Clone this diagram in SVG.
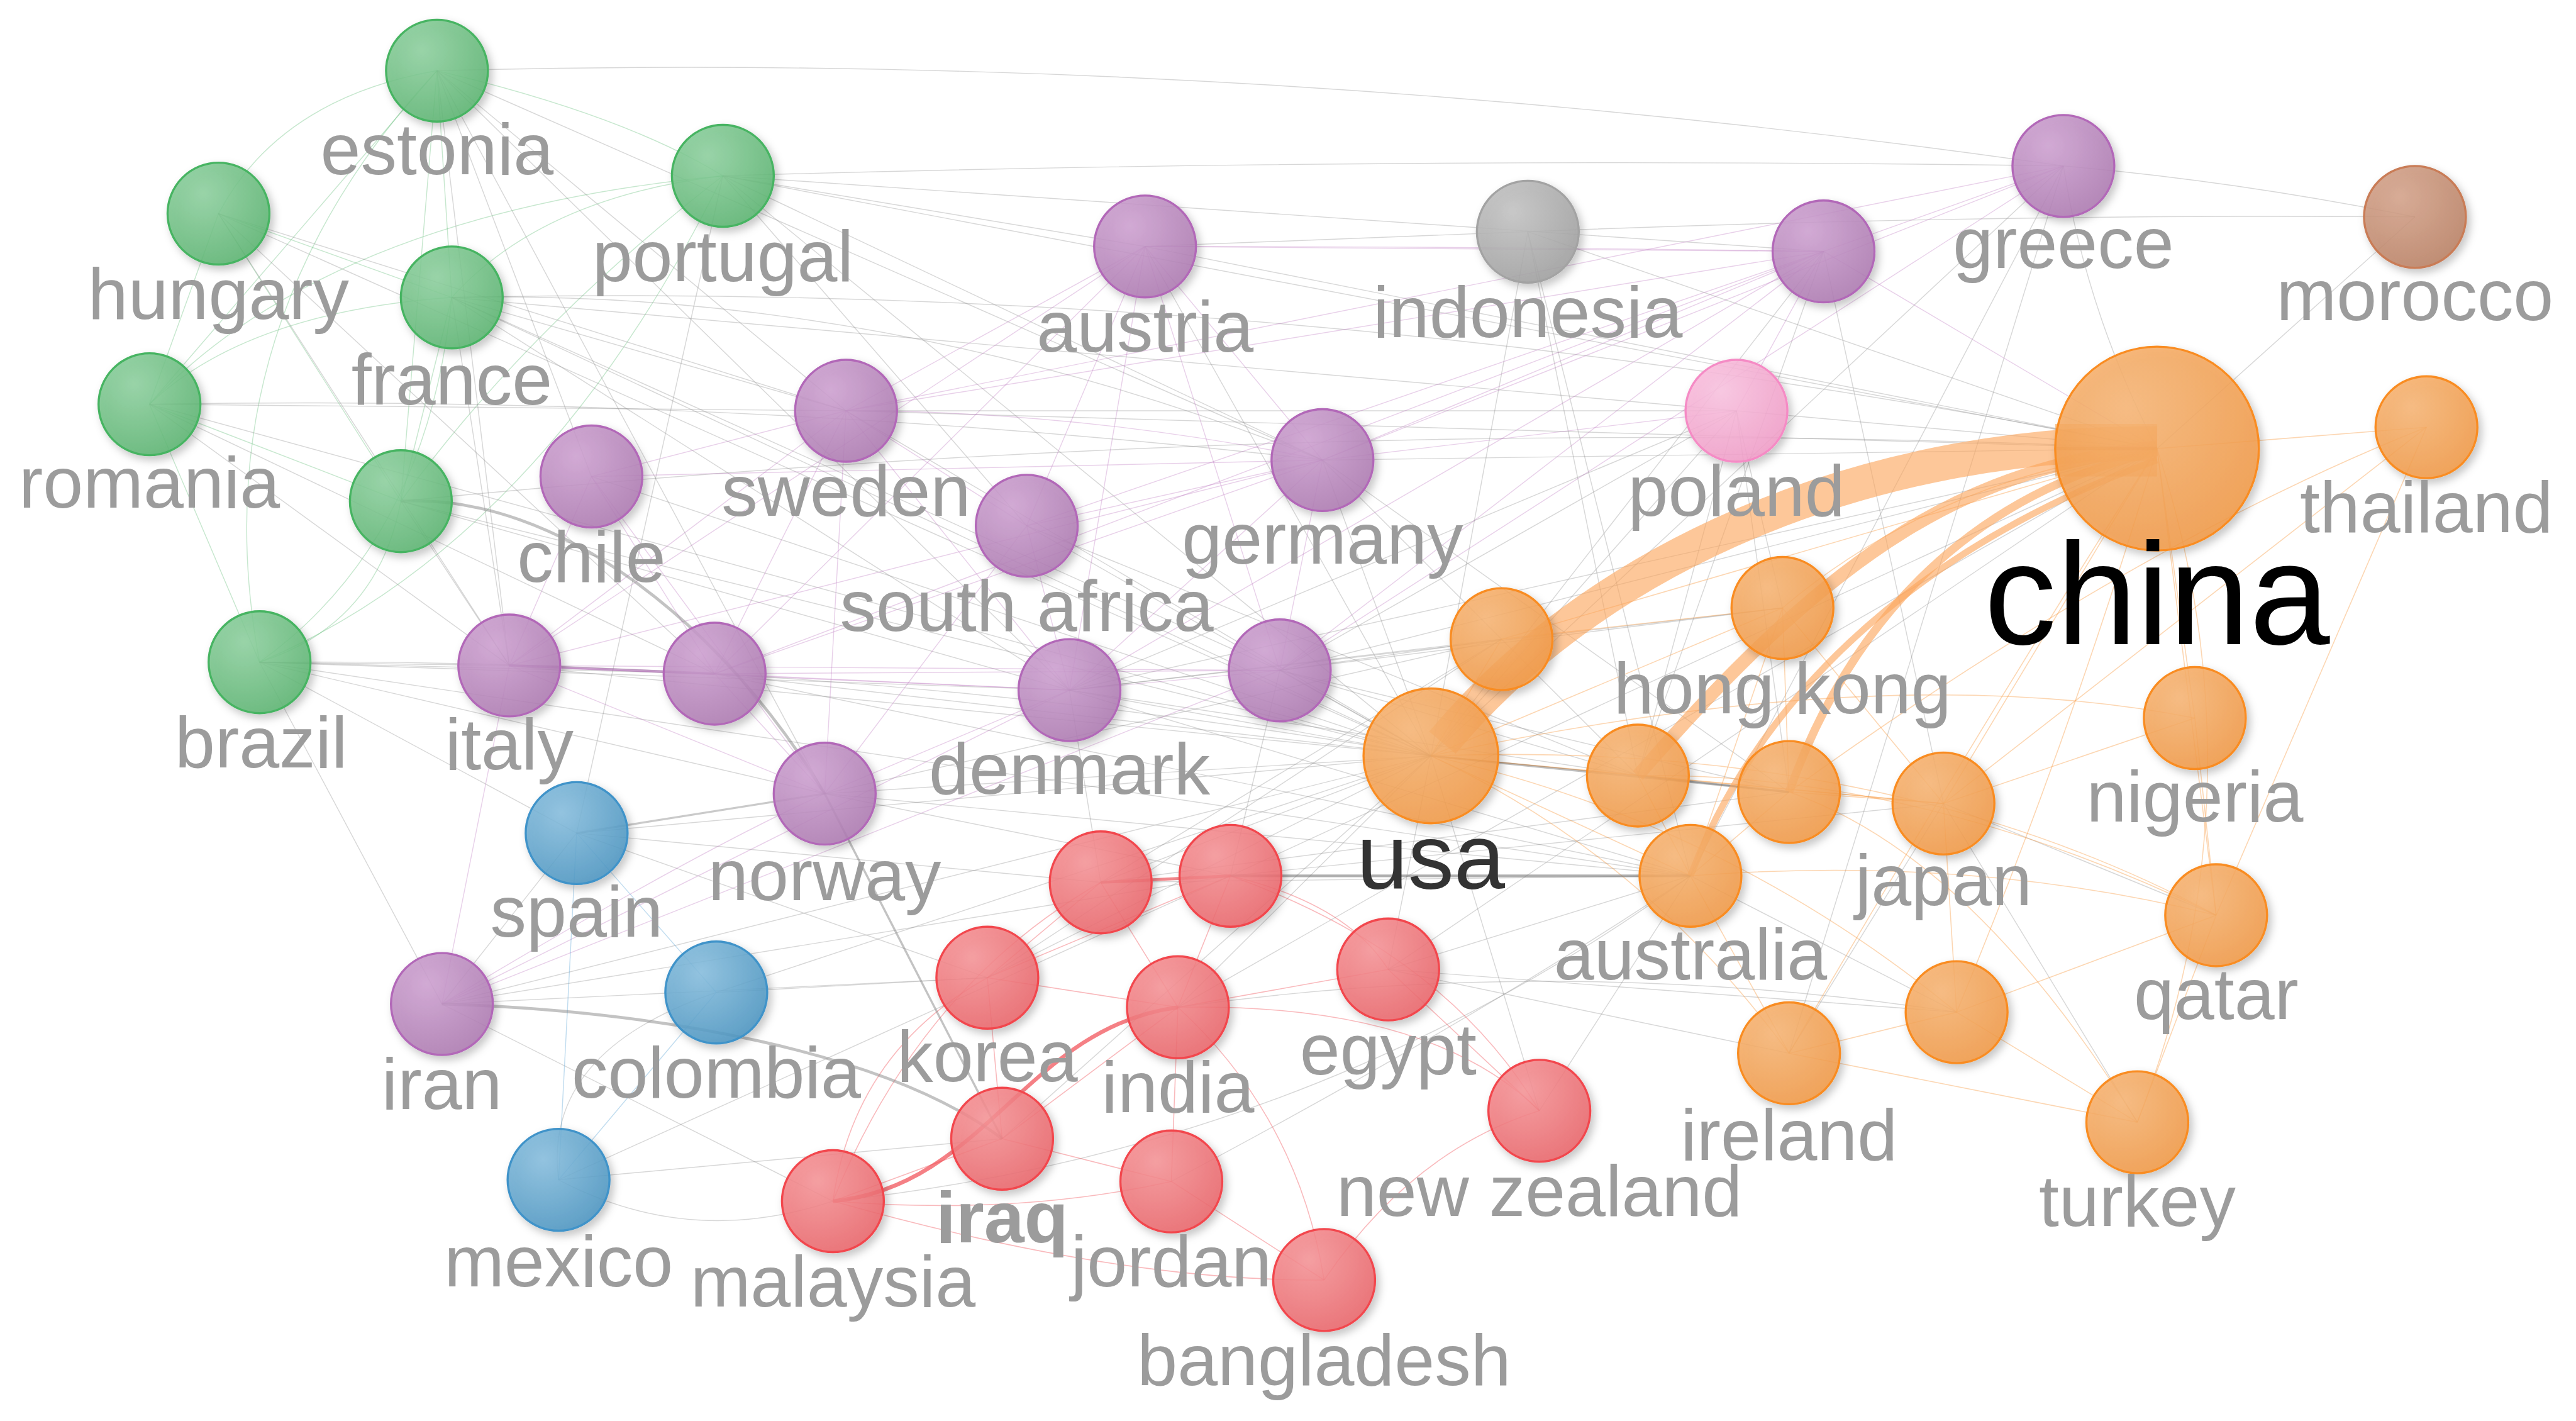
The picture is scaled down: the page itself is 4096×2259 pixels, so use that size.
<svg xmlns="http://www.w3.org/2000/svg" width="4096" height="2259" viewBox="0 0 4096 2259">
<style>
.e{stroke:#8a8a8a;stroke-opacity:.34;stroke-width:.55;fill:none}
.eg{stroke:#5cbb74;stroke-opacity:.35;stroke-width:.55;fill:none}
.ep{stroke:#b86fbd;stroke-opacity:.33;stroke-width:.55;fill:none}
.eo{stroke:#f8993f;stroke-opacity:.4;stroke-width:.6;fill:none}
.er{stroke:#f0474e;stroke-opacity:.38;stroke-width:.6;fill:none}
.eb{stroke:#4a9bd0;stroke-opacity:.35;stroke-width:.55;fill:none}
.band{stroke:#fba55a;stroke-opacity:.62;fill:none}
circle{stroke-width:1.3;fill-opacity:.86;filter:url(#sh)}
.ng{fill:url(#gG);stroke:#47b462}
.np{fill:url(#gP);stroke:#b268b8}
.no{fill:url(#gO);stroke:#f98c20}
.nr{fill:url(#gR);stroke:#f2464d}
.nb{fill:url(#gB);stroke:#3f93c9}
.nx{fill:url(#gX);stroke:#a3a3a3}
.nm{fill:url(#gM);stroke:#c97b56}
.nk{fill:url(#gK);stroke:#f58bc5}
text{font-family:"Liberation Sans",Arial,sans-serif;font-size:44px;fill:#9c9c9c;text-anchor:middle}
</style>
<defs>
<filter id="sh" x="-30%" y="-30%" width="170%" height="170%"><feDropShadow dx="2" dy="2.5" stdDeviation="2.5" flood-color="#000" flood-opacity=".25"/></filter>
<radialGradient id="gG" cx=".35" cy=".3" r=".75"><stop offset="0" stop-color="#8fd1a0"/><stop offset="1" stop-color="#5cb572"/></radialGradient>
<radialGradient id="gP" cx=".35" cy=".3" r=".75"><stop offset="0" stop-color="#cfa2d2"/><stop offset="1" stop-color="#ae7bb2"/></radialGradient>
<radialGradient id="gO" cx=".35" cy=".3" r=".75"><stop offset="0" stop-color="#f8b676"/><stop offset="1" stop-color="#f29a47"/></radialGradient>
<radialGradient id="gR" cx=".35" cy=".3" r=".75"><stop offset="0" stop-color="#f79598"/><stop offset="1" stop-color="#eb666b"/></radialGradient>
<radialGradient id="gB" cx=".35" cy=".3" r=".75"><stop offset="0" stop-color="#88bfdf"/><stop offset="1" stop-color="#4c96c2"/></radialGradient>
<radialGradient id="gX" cx=".35" cy=".3" r=".75"><stop offset="0" stop-color="#c4c4c4"/><stop offset="1" stop-color="#a0a0a0"/></radialGradient>
<radialGradient id="gM" cx=".35" cy=".3" r=".75"><stop offset="0" stop-color="#d6a48c"/><stop offset="1" stop-color="#bb8265"/></radialGradient>
<radialGradient id="gK" cx=".35" cy=".3" r=".75"><stop offset="0" stop-color="#fbc4e1"/><stop offset="1" stop-color="#f29ec9"/></radialGradient>
</defs>
<rect width="4096" height="2259" fill="#fff"/>
<g transform="scale(2.6122)">
<g id="connectors">
<g class="eg">
<path d="M266 43 Q170 60 133 130"/><line x1="266" y1="43" x2="275" y2="181"/><path d="M266 43 Q380 70 440 107"/><line x1="266" y1="43" x2="91" y2="246"/><line x1="266" y1="43" x2="244" y2="305"/><line x1="133" y1="130" x2="275" y2="181"/><line x1="133" y1="130" x2="91" y2="246"/><line x1="133" y1="130" x2="244" y2="305"/><path d="M440 107 Q330 120 275 181"/><path d="M440 107 Q200 130 91 246"/><path d="M440 107 Q320 200 244 305"/><path d="M440 107 Q330 330 158 403"/><path d="M275 181 Q150 190 91 246"/><line x1="275" y1="181" x2="244" y2="305"/><path d="M275 181 Q260 330 158 403"/><line x1="91" y1="246" x2="244" y2="305"/><line x1="91" y1="246" x2="158" y2="403"/><path d="M244 305 Q230 380 158 403"/><path d="M266 43 Q120 200 158 403"/>
</g>
<g class="e">
<path d="M266 43 Q760 30 1256 101"/><line x1="266" y1="43" x2="515" y2="250"/><line x1="266" y1="43" x2="805" y2="280"/><line x1="266" y1="43" x2="360" y2="290"/><line x1="266" y1="43" x2="310" y2="405"/><line x1="266" y1="43" x2="651" y2="420"/><line x1="266" y1="43" x2="502" y2="483"/>
<line x1="133" y1="130" x2="310" y2="405"/><line x1="133" y1="130" x2="515" y2="250"/><line x1="133" y1="130" x2="435" y2="410"/><line x1="133" y1="130" x2="871" y2="460"/>
<line x1="440" y1="107" x2="1110" y2="153"/><path d="M440 107 Q850 95 1256 101"/><line x1="440" y1="107" x2="697" y2="150"/><line x1="440" y1="107" x2="805" y2="280"/><line x1="440" y1="107" x2="351" y2="507"/><line x1="440" y1="107" x2="1313" y2="273"/><line x1="440" y1="107" x2="625" y2="320"/><line x1="440" y1="107" x2="871" y2="460"/>
<path d="M275 181 Q540 175 805 280"/><line x1="275" y1="181" x2="515" y2="250"/><path d="M275 181 Q800 170 1313 273"/><line x1="275" y1="181" x2="871" y2="460"/><line x1="275" y1="181" x2="310" y2="405"/><line x1="275" y1="181" x2="651" y2="420"/><line x1="275" y1="181" x2="1057" y2="250"/><line x1="275" y1="181" x2="779" y2="408"/>
<path d="M91 246 Q450 240 805 280"/><line x1="91" y1="246" x2="310" y2="405"/><line x1="91" y1="246" x2="515" y2="250"/><line x1="91" y1="246" x2="871" y2="460"/><line x1="91" y1="246" x2="435" y2="410"/>
<line x1="244" y1="305" x2="871" y2="460"/><line x1="244" y1="305" x2="310" y2="405"/><line x1="244" y1="305" x2="651" y2="420"/><path d="M244 305 Q800 250 1313 273"/>
<line x1="158" y1="403" x2="310" y2="405"/><line x1="158" y1="403" x2="435" y2="410"/><path d="M158 403 Q520 400 871 460"/><line x1="158" y1="403" x2="351" y2="507"/><line x1="158" y1="403" x2="269" y2="611"/><line x1="158" y1="403" x2="651" y2="420"/><line x1="158" y1="403" x2="1029" y2="533"/><line x1="158" y1="403" x2="502" y2="483"/>
<line x1="697" y1="150" x2="930" y2="141"/><line x1="697" y1="150" x2="871" y2="460"/><line x1="697" y1="150" x2="1313" y2="273"/><line x1="515" y1="250" x2="1313" y2="273"/><line x1="515" y1="250" x2="871" y2="460"/><line x1="360" y1="290" x2="871" y2="460"/><line x1="625" y1="320" x2="871" y2="460"/><line x1="805" y1="280" x2="1313" y2="273"/><line x1="805" y1="280" x2="871" y2="460"/>
<line x1="310" y1="405" x2="871" y2="460"/><line x1="435" y1="410" x2="871" y2="460"/><line x1="651" y1="420" x2="871" y2="460"/><line x1="651" y1="420" x2="1313" y2="273"/><line x1="779" y1="408" x2="871" y2="460"/><line x1="779" y1="408" x2="1313" y2="273"/><line x1="502" y1="483" x2="871" y2="460"/><line x1="502" y1="483" x2="1029" y2="533"/>
<line x1="1110" y1="153" x2="871" y2="460"/><path d="M1256 101 Q1270 190 1313 273"/><path d="M1256 101 Q1360 110 1470 132"/><line x1="1256" y1="101" x2="871" y2="460"/><line x1="1256" y1="101" x2="1029" y2="533"/><line x1="1256" y1="101" x2="1089" y2="641"/>
<line x1="930" y1="141" x2="1313" y2="273"/><path d="M930 141 Q1200 130 1470 132"/><line x1="930" y1="141" x2="1029" y2="533"/><line x1="930" y1="141" x2="871" y2="460"/><line x1="1470" y1="132" x2="1313" y2="273"/><line x1="1057" y1="250" x2="1313" y2="273"/><line x1="1057" y1="250" x2="871" y2="460"/>
<line x1="269" y1="611" x2="351" y2="507"/><line x1="269" y1="611" x2="601" y2="595"/><line x1="269" y1="611" x2="507" y2="731"/><line x1="269" y1="611" x2="749" y2="533"/><line x1="269" y1="611" x2="871" y2="460"/>
<line x1="351" y1="507" x2="871" y2="460"/><line x1="351" y1="507" x2="670" y2="537"/><line x1="436" y1="604" x2="871" y2="460"/><line x1="436" y1="604" x2="601" y2="595"/><line x1="340" y1="718" x2="610" y2="693"/><path d="M340 718 Q420 760 507 731"/><line x1="340" y1="718" x2="749" y2="533"/><line x1="351" y1="507" x2="601" y2="595"/>
<line x1="871" y1="460" x2="670" y2="537"/><line x1="871" y1="460" x2="601" y2="595"/><line x1="871" y1="460" x2="717" y2="613"/><line x1="871" y1="460" x2="845" y2="590"/><line x1="871" y1="460" x2="937" y2="676"/><line x1="871" y1="460" x2="610" y2="693"/><line x1="670" y1="537" x2="1029" y2="533"/><line x1="1029" y1="533" x2="937" y2="676"/><path d="M713 719 Q900 620 1029 533"/><line x1="1029" y1="533" x2="845" y2="590"/><line x1="1089" y1="641" x2="845" y2="590"/><line x1="1191" y1="616" x2="845" y2="590"/><path d="M717 613 Q950 580 1191 616"/><line x1="1089" y1="482" x2="670" y2="537"/><line x1="1183" y1="489" x2="749" y2="533"/><line x1="1313" y1="273" x2="749" y2="533"/><line x1="1313" y1="273" x2="717" y2="613"/><line x1="1313" y1="273" x2="845" y2="590"/><line x1="914" y1="389" x2="651" y2="420"/><line x1="914" y1="389" x2="779" y2="408"/><line x1="914" y1="389" x2="502" y2="483"/><line x1="1085" y1="370" x2="779" y2="408"/><line x1="997" y1="472" x2="651" y2="420"/><line x1="997" y1="472" x2="779" y2="408"/><path d="M507 731 Q800 700 1029 533"/><path d="M340 718 Q330 640 436 604"/><line x1="1183" y1="489" x2="1349" y2="557"/><line x1="1191" y1="616" x2="1029" y2="533"/><line x1="1301" y1="683" x2="1183" y2="489"/><line x1="1089" y1="641" x2="1183" y2="489"/>
<line x1="1057" y1="250" x2="779" y2="408"/><line x1="1057" y1="250" x2="651" y2="420"/><line x1="1057" y1="250" x2="997" y2="472"/><line x1="1057" y1="250" x2="1089" y2="482"/><line x1="1110" y1="153" x2="997" y2="472"/><line x1="1110" y1="153" x2="1183" y2="489"/><line x1="930" y1="141" x2="997" y2="472"/><line x1="805" y1="280" x2="997" y2="472"/><line x1="805" y1="280" x2="1089" y2="482"/><line x1="625" y1="320" x2="997" y2="472"/><line x1="515" y1="250" x2="1057" y2="250"/><line x1="435" y1="410" x2="1029" y2="533"/><line x1="651" y1="420" x2="1029" y2="533"/><line x1="779" y1="408" x2="1089" y2="482"/><line x1="779" y1="408" x2="749" y2="533"/><line x1="651" y1="420" x2="670" y2="537"/><line x1="502" y1="483" x2="749" y2="533"/><line x1="914" y1="389" x2="670" y2="537"/><line x1="914" y1="389" x2="601" y2="595"/><line x1="1085" y1="370" x2="651" y2="420"/><line x1="1085" y1="370" x2="1057" y2="250"/>
</g>
<g class="ep">
<line x1="697" y1="150" x2="515" y2="250"/><line x1="697" y1="150" x2="805" y2="280"/><line x1="697" y1="150" x2="625" y2="320"/><line x1="697" y1="150" x2="651" y2="420"/><line x1="697" y1="150" x2="310" y2="405"/><line x1="697" y1="150" x2="1110" y2="153"/><line x1="697" y1="150" x2="435" y2="410"/><line x1="697" y1="150" x2="779" y2="408"/>
<path d="M515 250 Q660 250 805 280"/><line x1="515" y1="250" x2="625" y2="320"/><line x1="515" y1="250" x2="360" y2="290"/><line x1="515" y1="250" x2="310" y2="405"/><line x1="515" y1="250" x2="435" y2="410"/><line x1="515" y1="250" x2="651" y2="420"/><line x1="515" y1="250" x2="502" y2="483"/><line x1="515" y1="250" x2="1110" y2="153"/>
<line x1="360" y1="290" x2="310" y2="405"/><line x1="360" y1="290" x2="435" y2="410"/><line x1="360" y1="290" x2="502" y2="483"/><line x1="360" y1="290" x2="805" y2="280"/>
<line x1="625" y1="320" x2="805" y2="280"/><line x1="625" y1="320" x2="651" y2="420"/><line x1="625" y1="320" x2="502" y2="483"/><line x1="625" y1="320" x2="1110" y2="153"/>
<line x1="805" y1="280" x2="1110" y2="153"/><line x1="805" y1="280" x2="1057" y2="250"/><line x1="805" y1="280" x2="651" y2="420"/><line x1="805" y1="280" x2="779" y2="408"/><line x1="805" y1="280" x2="1256" y2="101"/><line x1="805" y1="280" x2="310" y2="405"/><line x1="805" y1="280" x2="435" y2="410"/>
<line x1="310" y1="405" x2="651" y2="420"/><line x1="310" y1="405" x2="502" y2="483"/><line x1="310" y1="405" x2="269" y2="611"/><line x1="310" y1="405" x2="779" y2="408"/>
<line x1="435" y1="410" x2="651" y2="420"/><line x1="435" y1="410" x2="779" y2="408"/><line x1="435" y1="410" x2="502" y2="483"/><line x1="651" y1="420" x2="779" y2="408"/><line x1="651" y1="420" x2="502" y2="483"/>
<line x1="779" y1="408" x2="1110" y2="153"/><line x1="1110" y1="153" x2="1256" y2="101"/><line x1="1110" y1="153" x2="1057" y2="250"/><line x1="1110" y1="153" x2="1313" y2="273"/><line x1="1110" y1="153" x2="435" y2="410"/><line x1="1256" y1="101" x2="515" y2="250"/><path d="M697 150 Q900 150 1110 153"/>
<path d="M269 611 Q420 520 502 483"/><line x1="269" y1="611" x2="651" y2="420"/><path d="M269 611 Q600 480 779 408"/><line x1="1256" y1="101" x2="779" y2="408"/><line x1="1110" y1="153" x2="651" y2="420"/>
</g>
<path d="M310 405 L435 410" stroke="#a35aa8" stroke-opacity=".55" stroke-width="1.6" fill="none"/>
<g class="eb">
<line x1="351" y1="507" x2="436" y2="604"/><line x1="351" y1="507" x2="340" y2="718"/><line x1="436" y1="604" x2="340" y2="718"/>
</g>
<g class="eo">
<line x1="1313" y1="273" x2="1183" y2="489"/><line x1="1313" y1="273" x2="1336" y2="437"/><line x1="1313" y1="273" x2="1349" y2="557"/><path d="M1313 273 Q1380 480 1301 683"/><path d="M1313 273 Q1200 450 1089 641"/><path d="M1313 273 Q1260 450 1191 616"/><line x1="1313" y1="273" x2="1477" y2="260"/><line x1="1313" y1="273" x2="914" y2="389"/><path d="M1313 273 Q1180 290 1085 370"/>
<line x1="1477" y1="260" x2="1183" y2="489"/><line x1="1477" y1="260" x2="1349" y2="557"/><path d="M1477 260 Q1300 330 1089 482"/>
<line x1="871" y1="460" x2="914" y2="389"/><line x1="871" y1="460" x2="1085" y2="370"/><line x1="871" y1="460" x2="997" y2="472"/><line x1="871" y1="460" x2="1183" y2="489"/><line x1="871" y1="460" x2="1029" y2="533"/><path d="M871 460 Q1050 500 1191 616"/><path d="M871 460 Q1000 520 1089 641"/><path d="M871 460 Q1150 450 1349 557"/><path d="M871 460 Q1150 400 1336 437"/>
<line x1="997" y1="472" x2="1183" y2="489"/><line x1="997" y1="472" x2="1029" y2="533"/><line x1="1089" y1="482" x2="1183" y2="489"/><line x1="1089" y1="482" x2="1029" y2="533"/><line x1="1089" y1="482" x2="1085" y2="370"/>
<line x1="1183" y1="489" x2="1336" y2="437"/><line x1="1183" y1="489" x2="1191" y2="616"/><line x1="1029" y1="533" x2="1089" y2="641"/><path d="M1029 533 Q1200 520 1349 557"/><line x1="1191" y1="616" x2="1349" y2="557"/><line x1="1191" y1="616" x2="1301" y2="683"/><line x1="1089" y1="641" x2="1301" y2="683"/><line x1="1089" y1="641" x2="1191" y2="616"/><line x1="1336" y1="437" x2="1349" y2="557"/><line x1="1349" y1="557" x2="1301" y2="683"/><line x1="1085" y1="370" x2="1183" y2="489"/><line x1="1085" y1="370" x2="1029" y2="533"/><line x1="914" y1="389" x2="1085" y2="370"/><path d="M997 472 Q1170 470 1349 557"/><path d="M1089 482 Q1200 520 1301 683"/>
</g>
<g class="er">
<line x1="670" y1="537" x2="601" y2="595"/><line x1="670" y1="537" x2="717" y2="613"/><line x1="749" y1="533" x2="717" y2="613"/><path d="M749 533 Q820 550 845 590"/><line x1="749" y1="533" x2="601" y2="595"/><line x1="601" y1="595" x2="717" y2="613"/><line x1="601" y1="595" x2="610" y2="693"/><path d="M601 595 Q520 640 507 731"/><line x1="717" y1="613" x2="610" y2="693"/><line x1="717" y1="613" x2="713" y2="719"/><line x1="717" y1="613" x2="845" y2="590"/><path d="M717 613 Q790 680 806 779"/><path d="M717 613 Q870 610 937 676"/><line x1="507" y1="731" x2="610" y2="693"/><path d="M507 731 Q620 740 713 719"/><path d="M507 731 Q680 780 806 779"/><line x1="713" y1="719" x2="806" y2="779"/><path d="M937 676 Q860 700 806 779"/><line x1="845" y1="590" x2="937" y2="676"/><path d="M670 537 Q560 600 507 731"/><path d="M749 533 Q880 580 937 676"/><line x1="610" y1="693" x2="713" y2="719"/>
</g>
<path d="M670 537 L749 533" stroke="#e8393f" stroke-opacity=".6" stroke-width="1.8" fill="none"/>
<path d="M507 731 C600 722 625 625 717 613" stroke="#f03c44" stroke-opacity=".65" stroke-width="2.4" fill="none"/>
<path d="M749 533 L1029 533" stroke="#6e6e6e" stroke-opacity=".55" stroke-width="1.6" fill="none"/>
<path d="M871 460 L1089 482" stroke="#6e6e6e" stroke-opacity=".45" stroke-width="1.3" fill="none"/>
<path d="M997 472 L1089 482" stroke="#6e6e6e" stroke-opacity=".45" stroke-width="1.2" fill="none"/>
<path d="M244 305 C340 300 440 380 502 483" stroke="#7a7a7a" stroke-opacity=".45" stroke-width="1.8" fill="none"/>
<path d="M502 483 L610 693" stroke="#7a7a7a" stroke-opacity=".45" stroke-width="1.3" fill="none"/>
<path d="M269 611 C400 615 540 640 610 693" stroke="#7a7a7a" stroke-opacity=".45" stroke-width="1.8" fill="none"/>
<path d="M351 507 L502 483" stroke="#7a7a7a" stroke-opacity=".4" stroke-width="1.2" fill="none"/>
<path d="M1313 270 C1150 268 980 330 878 452" class="band" stroke-width="21"/>
<path d="M1313 272 C1200 285 1120 330 997 472" class="band" stroke-width="8"/>
<path d="M1313 275 C1240 290 1140 340 1089 482" class="band" stroke-width="5"/>
<path d="M1313 280 C1200 320 1080 400 1029 533" class="band" stroke-width="4"/>
<path d="M1251 274 L1313 274" stroke="#f98c20" stroke-opacity=".45" stroke-width="32" fill="none"/>
<path d="M1251 273 L1313 273" stroke="#e07010" stroke-opacity=".6" stroke-width="2" fill="none"/>
</g>
<g id="n-estonia"><circle class="ng" cx="266" cy="43" r="31"/><text x="266" y="106">estonia</text></g>
<g id="n-hungary"><circle class="ng" cx="133" cy="130" r="31"/><text x="133" y="194">hungary</text></g>
<g id="n-portugal"><circle class="ng" cx="440" cy="107" r="31"/><text x="440" y="171">portugal</text></g>
<g id="n-france"><circle class="ng" cx="275" cy="181" r="31"/><text x="275" y="246">france</text></g>
<g id="n-romania"><circle class="ng" cx="91" cy="246" r="31"/><text x="91" y="309">romania</text></g>
<g id="n-green6"><circle class="ng" cx="244" cy="305" r="31"/></g>
<g id="n-brazil"><circle class="ng" cx="158" cy="403" r="31"/><text x="159" y="467">brazil</text></g>
<g id="n-austria"><circle class="np" cx="697" cy="150" r="31"/><text x="697" y="214">austria</text></g>
<g id="n-indonesia"><circle class="nx" cx="930" cy="141" r="31"/><text x="930" y="205">indonesia</text></g>
<g id="n-purple-greece"><circle class="np" cx="1110" cy="153" r="31"/></g>
<g id="n-greece"><circle class="np" cx="1256" cy="101" r="31"/><text x="1256" y="163">greece</text></g>
<g id="n-morocco"><circle class="nm" cx="1470" cy="132" r="31"/><text x="1470" y="195">morocco</text></g>
<g id="n-poland"><circle class="nk" cx="1057" cy="250" r="31"/><text x="1057" y="314">poland</text></g>
<g id="n-thailand"><circle class="no" cx="1477" cy="260" r="31"/><text x="1477" y="324">thailand</text></g>
<g id="n-sweden"><circle class="np" cx="515" cy="250" r="31"/><text x="515" y="314">sweden</text></g>
<g id="n-chile"><circle class="np" cx="360" cy="290" r="31"/><text x="360" y="354">chile</text></g>
<g id="n-southafrica"><circle class="np" cx="625" cy="320" r="31"/><text x="625" y="384">south africa</text></g>
<g id="n-germany"><circle class="np" cx="805" cy="280" r="31"/><text x="805" y="343">germany</text></g>
<g id="n-italy"><circle class="np" cx="310" cy="405" r="31"/><text x="310" y="468">italy</text></g>
<g id="n-purple2"><circle class="np" cx="435" cy="410" r="31"/></g>
<g id="n-denmark"><circle class="np" cx="651" cy="420" r="31"/><text x="651" y="483">denmark</text></g>
<g id="n-purple3"><circle class="np" cx="779" cy="408" r="31"/></g>
<g id="n-norway"><circle class="np" cx="502" cy="483" r="31"/><text x="502" y="548">norway</text></g>
<g id="n-spain"><circle class="nb" cx="351" cy="507" r="31"/><text x="351" y="570">spain</text></g>
<g id="n-colombia"><circle class="nb" cx="436" cy="604" r="31"/><text x="436" y="668">colombia</text></g>
<g id="n-mexico"><circle class="nb" cx="340" cy="718" r="31"/><text x="340" y="783">mexico</text></g>
<g id="n-iran"><circle class="np" cx="269" cy="611" r="31"/><text x="269" y="675">iran</text></g>
<g id="n-orange2"><circle class="no" cx="914" cy="389" r="31"/></g>
<g id="n-hongkong"><circle class="no" cx="1085" cy="370" r="31"/><text x="1085" y="434">hong kong</text></g>
<g id="n-orange3"><circle class="no" cx="997" cy="472" r="31"/></g>
<g id="n-orange4"><circle class="no" cx="1089" cy="482" r="31"/></g>
<g id="n-japan"><circle class="no" cx="1183" cy="489" r="31"/><text x="1183" y="551">japan</text></g>
<g id="n-nigeria"><circle class="no" cx="1336" cy="437" r="31"/><text x="1336" y="500">nigeria</text></g>
<g id="n-australia"><circle class="no" cx="1029" cy="533" r="31"/><text x="1029" y="596">australia</text></g>
<g id="n-qatar"><circle class="no" cx="1349" cy="557" r="31"/><text x="1349" y="620">qatar</text></g>
<g id="n-orange5"><circle class="no" cx="1191" cy="616" r="31"/></g>
<g id="n-ireland"><circle class="no" cx="1089" cy="641" r="31"/><text x="1089" y="706">ireland</text></g>
<g id="n-turkey"><circle class="no" cx="1301" cy="683" r="31"/><text x="1301" y="746">turkey</text></g>
<g id="n-red1"><circle class="nr" cx="670" cy="537" r="31"/></g>
<g id="n-red2"><circle class="nr" cx="749" cy="533" r="31"/></g>
<g id="n-korea"><circle class="nr" cx="601" cy="595" r="31"/><text x="601" y="658">korea</text></g>
<g id="n-india"><circle class="nr" cx="717" cy="613" r="31"/><text x="717" y="677">india</text></g>
<g id="n-egypt"><circle class="nr" cx="845" cy="590" r="31"/><text x="845" y="654">egypt</text></g>
<g id="n-newzealand"><circle class="nr" cx="937" cy="676" r="31"/><text x="937" y="740">new zealand</text></g>
<g id="n-iraq"><circle class="nr" cx="610" cy="693" r="31"/><text x="610" y="756" style="font-weight:bold">iraq</text></g>
<g id="n-malaysia"><circle class="nr" cx="507" cy="731" r="31"/><text x="507" y="795">malaysia</text></g>
<g id="n-jordan"><circle class="nr" cx="713" cy="719" r="31"/><text x="713" y="783">jordan</text></g>
<g id="n-bangladesh"><circle class="nr" cx="806" cy="779" r="31"/><text x="806" y="843">bangladesh</text></g>
<g id="n-usa"><circle class="no" cx="871" cy="460" r="41"/><text x="871" y="541" style="font-size:56px;fill:#333">usa</text></g>
<g id="n-china"><circle class="no" cx="1313" cy="273" r="62"/><text x="1313" y="392" style="font-size:88px;fill:#000">china</text></g>
</g>
</svg>
